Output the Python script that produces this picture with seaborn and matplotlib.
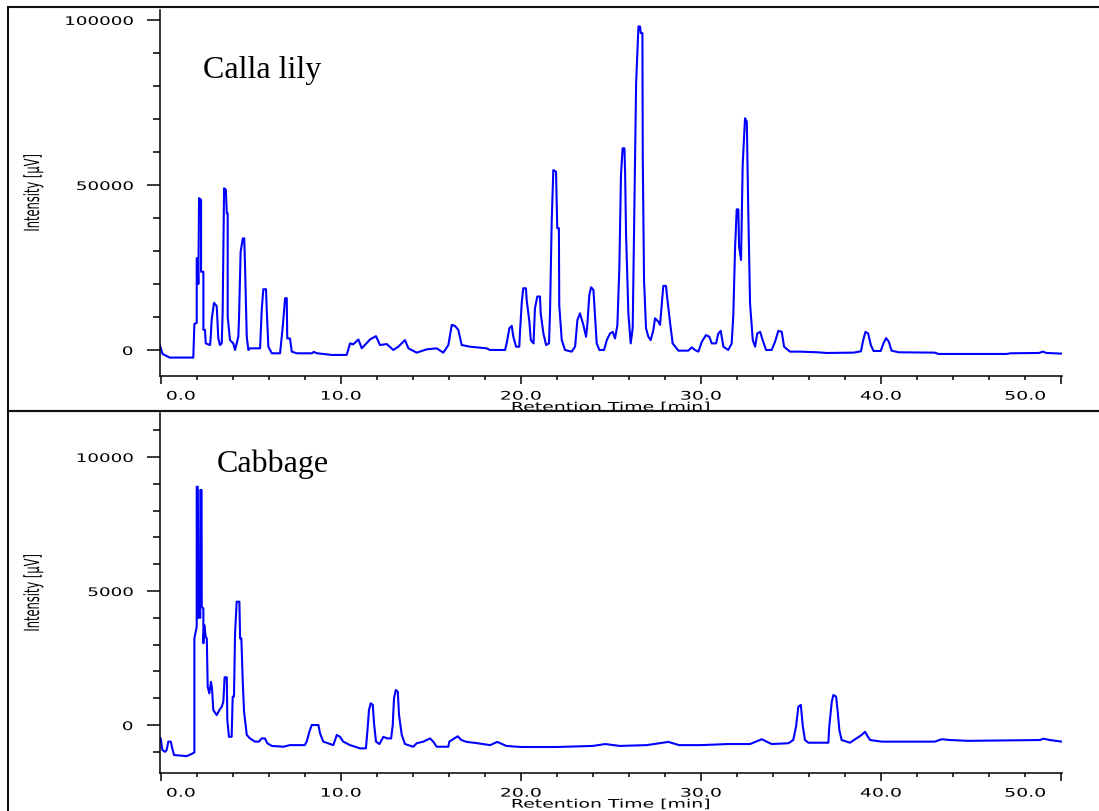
import matplotlib

matplotlib.use("Agg")
import matplotlib.patheffects as pe
import matplotlib.pyplot as plt
import matplotlib.transforms as mtransforms
import seaborn as sns
from matplotlib.patches import Rectangle
from matplotlib.ticker import MultipleLocator

# chromatogram traces (time in min, intensity in uV)
calla_time = [
    -0.05, 0.10, 0.50, 1.81, 1.87, 2.00, 2.00, 2.06, 2.09, 2.13, 2.24, 2.24, 2.37, 2.37, 2.46, 2.50,
    2.74, 2.78, 2.83, 2.96, 3.11, 3.20, 3.29, 3.39, 3.44, 3.52, 3.62, 3.67, 3.72, 3.72, 3.85, 4.03,
    4.13, 4.31, 4.35, 4.44, 4.56, 4.64, 4.68, 4.78, 4.87, 4.96, 5.52, 5.61, 5.70, 5.85, 5.89, 5.98,
    6.17, 6.63, 6.78, 6.91, 7.00, 7.03, 7.18, 7.28, 7.56, 8.40, 8.50, 8.70, 9.50, 10.33, 10.52, 10.70,
    10.98, 11.17, 11.63, 11.96, 12.18, 12.56, 12.92, 13.20, 13.57, 13.76, 14.22, 14.78, 15.33, 15.70,
    15.98, 16.17, 16.35, 16.53, 16.72, 17.18, 18.11, 18.29, 19.13, 19.22, 19.37, 19.50, 19.59, 19.74,
    19.92, 19.96, 20.06, 20.14, 20.29, 20.33, 20.48, 20.56, 20.71, 20.79, 20.92, 21.07, 21.11, 21.26,
    21.41, 21.57, 21.63, 21.72, 21.81, 21.96, 22.03, 22.12, 22.14, 22.28, 22.46, 22.83, 23.02, 23.15,
    23.29, 23.48, 23.63, 23.70, 23.81, 23.91, 24.04, 24.13, 24.22, 24.37, 24.63, 24.78, 24.96, 25.11,
    25.24, 25.37, 25.48, 25.57, 25.66, 25.76, 25.80, 25.85, 25.98, 26.11, 26.22, 26.29, 26.41, 26.54,
    26.63, 26.67, 26.76, 26.78, 26.85, 26.96, 27.09, 27.22, 27.37, 27.46, 27.64, 27.74, 27.83, 27.92,
    28.07, 28.14, 28.29, 28.44, 28.76, 29.31, 29.50, 29.68, 29.87, 30.06, 30.29, 30.48, 30.61, 30.85,
    30.98, 31.11, 31.26, 31.53, 31.72, 31.81, 31.91, 32.00, 32.09, 32.13, 32.24, 32.33, 32.46, 32.56,
    32.64, 32.74, 32.89, 33.02, 33.14, 33.30, 33.44, 33.63, 33.94, 34.13, 34.31, 34.50, 34.63, 34.96,
    35.52, 36.50, 37.00, 38.50, 38.90, 39.05, 39.15, 39.30, 39.45, 39.60, 40.00, 40.15, 40.30, 40.45,
    40.60, 41.00, 43.00, 43.20, 47.00, 47.20, 48.80, 49.00, 49.20, 50.05,
]
calla_intensity = [
    1500, -1200, -2300, -2300, 7900, 8200, 27800, 27800, 20000, 46000, 45500, 23700, 23700, 6100, 6100, 2000,
    1500, 4000, 9100, 14300, 13300, 3500, 1500, 2000, 11200, 49000, 48500, 41400, 41400, 10100, 3000, 2000,
    0, 4000, 9600, 29800, 33800, 33800, 26300, 4000, 0, 500, 500, 12100, 18400, 18400, 12100, 1000,
    -1000, -1000, 7100, 15700, 15700, 3500, 3500, -500, -1000, -1000, -600, -1000, -1500, -1500, 2000, 1700,
    3200, 500, 3200, 4200, 1500, 1800, 0, 1000, 3000, 500, -800, 200, 500, -800,
    1500, 7600, 7300, 6100, 1500, 1000, 500, 0, 0, 2000, 6600, 7300, 4000, 1000,
    1000, 5500, 14600, 18700, 18700, 15200, 8600, 3000, 2000, 12600, 16200, 16200, 11100, 5000,
    1500, 2000, 12100, 38900, 54500, 54000, 36900, 36900, 13600, 3000, 0, -500, 1000, 9100,
    11100, 7600, 4000, 7600, 16700, 19000, 18200, 10100, 2000, 0, 0, 3000, 5000, 5500,
    3500, 7600, 25200, 53000, 61100, 61100, 53500, 35300, 11100, 2000, 6600, 33300, 80800, 98000,
    98000, 96000, 96000, 58100, 21200, 6600, 4000, 3000, 6100, 9600, 8600, 7600, 13600, 19400,
    19400, 15700, 8600, 2000, -200, -200, 800, 0, -500, 2500, 4500, 4000, 2000, 2000,
    5000, 5800, 1000, 0, 2000, 10600, 31300, 42600, 42600, 31300, 27300, 56000, 70200, 69200,
    42400, 14100, 3000, 1000, 5000, 5500, 3000, 0, 0, 2500, 5800, 5500, 1000, -500,
    -500, -700, -900, -800, -400, 3500, 5500, 5000, 1500, -300, -300, 2000, 3600, 2500,
    -200, -700, -800, -1200, -1200, -1000, -900, -500, -900, -1100,
]

cabbage_time = [
    -0.09, 0.00, 0.09, 0.24, 0.33, 0.42, 0.56, 0.64, 0.74, 1.44, 1.72, 1.87, 1.87, 2.00, 2.00, 2.06,
    2.10, 2.20, 2.20, 2.27, 2.28, 2.37, 2.37, 2.42, 2.50, 2.56, 2.61, 2.70, 2.79, 2.85, 2.92, 3.11,
    3.26, 3.39, 3.48, 3.55, 3.67, 3.70, 3.79, 3.94, 4.00, 4.07, 4.13, 4.22, 4.37, 4.41, 4.48, 4.56,
    4.63, 4.78, 4.96, 5.24, 5.45, 5.61, 5.79, 5.92, 6.17, 6.81, 7.18, 8.00, 8.11, 8.26, 8.39, 8.76,
    8.85, 9.03, 9.59, 9.78, 9.96, 10.14, 10.52, 11.07, 11.40, 11.48, 11.57, 11.67, 11.78, 11.85, 11.96,
    12.15, 12.37, 12.59, 12.80, 12.89, 12.96, 13.06, 13.17, 13.24, 13.39, 13.57, 14.03, 14.22, 14.59,
    14.96, 15.14, 15.33, 15.98, 16.03, 16.50, 16.70, 17.00, 17.50, 18.30, 18.70, 19.20, 20.00, 22.00,
    24.00, 24.70, 25.50, 27.00, 28.20, 28.80, 30.00, 31.50, 32.74, 33.39, 33.94, 34.87, 35.14, 35.30,
    35.42, 35.56, 35.67, 35.79, 35.98, 37.09, 37.14, 37.28, 37.37, 37.52, 37.61, 37.70, 37.83, 38.29,
    38.94, 39.13, 39.26, 39.41, 40.06, 43.00, 43.39, 43.85, 44.87, 48.85, 49.03, 49.40, 50.05,
]
cabbage_intensity = [
    -440, -500, -930, -1000, -930, -620, -620, -870, -1120, -1160, -1080, -1020, 3230, 3670, 8890, 8890,
    4000, 4000, 8770, 8770, 4410, 4350, 3050, 3730, 3290, 3230, 1430, 1180, 1610, 1370, 560, 370,
    560, 680, 870, 1780, 1780, 190, -440, -440, 1060, 1060, 3420, 4600, 4600, 3230, 3230, 1560,
    500, -370, -500, -620, -620, -500, -500, -680, -780, -810, -750, -750, -620, -250, 0, 0,
    -310, -620, -750, -370, -440, -620, -750, -870, -870, -250, 560, 810, 750, 60, -620,
    -710, -440, -500, -500, 0, 1000, 1310, 1240, 370, -370, -710, -810, -680, -620,
    -500, -620, -810, -810, -620, -420, -560, -630, -670, -750, -630, -780, -820, -820,
    -780, -710, -780, -750, -630, -750, -750, -710, -710, -530, -710, -680, -560, -40,
    680, 750, -40, -560, -660, -660, -60, 870, 1120, 1060, 500, -190, -560, -660,
    -370, -250, -410, -560, -620, -620, -530, -560, -590, -560, -510, -560, -620,
]

time_ticks = [0, 10, 20, 30, 40, 50]
time_labels = ["0.0", "10.0", "20.0", "30.0", "40.0", "50.0"]
calla_yticks = [0, 50000, 100000]
cabbage_yticks = [0, 5000, 10000]

W, H = 1099, 811


class Stretch(pe.AbstractPathEffect):
    """Widen or narrow glyphs along the reading direction (the original uses a stretched font)."""

    def __init__(self, sx, anchor="center"):
        super().__init__()
        self.sx = sx
        self.anchor = anchor

    def draw_path(self, renderer, gc, tpath, affine, rgbFace=None):
        ext = tpath.get_extents()
        x0 = {"left": ext.x0, "center": (ext.x0 + ext.x1) / 2, "right": ext.x1}[self.anchor]
        scale = mtransforms.Affine2D().translate(-x0, 0).scale(self.sx, 1).translate(x0, 0)
        renderer.draw_path(gc, tpath, scale + affine, rgbFace)


def fx(px):
    return px / W


def fy(py):
    return 1 - py / H


def draw_panel(fig, top_px, bottom_px, t, v, yticks, yminor, ylim, title, title_xy):
    ax = fig.add_axes([fx(160), fy(bottom_px), (1062 - 160) / W, (bottom_px - top_px) / H])
    sns.lineplot(x=t, y=v, ax=ax, estimator=None, sort=False, color="#0000ff", linewidth=1.5)
    ax.set_xlim(-0.04, 50.07)
    ax.set_ylim(*ylim)
    ax.spines[["top", "right"]].set_visible(False)
    for side in ["left", "bottom"]:
        ax.spines[side].set_linewidth(1.1)
        ax.spines[side].set_color("black")

    ax.set_xticks(time_ticks)
    ax.set_xticklabels(time_labels)
    ax.xaxis.set_minor_locator(MultipleLocator(2))
    ax.set_yticks(yticks)
    ax.set_yticklabels([str(y) for y in yticks])
    ax.yaxis.set_minor_locator(MultipleLocator(yminor))

    ax.tick_params(axis="y", which="major", length=9.5, width=1.1, pad=10, labelsize=8.5, colors="black")
    ax.tick_params(axis="y", which="minor", length=5, width=1.1, colors="black")
    ax.tick_params(axis="x", which="major", length=6, width=1.1, pad=3.8, labelsize=8.5, colors="black")
    ax.tick_params(axis="x", which="minor", length=3, width=1.1, colors="black")

    for lab in ax.get_yticklabels():
        lab.set_path_effects([Stretch(1.55, "right")])
    for lab in ax.get_xticklabels():
        lab.set_path_effects([Stretch(1.6, "center")])

    ax.set_ylabel("Intensity [µV]", fontsize=15, color="black", path_effects=[Stretch(0.55)])
    ax.yaxis.set_label_coords((43 - 160) / 902, 0.5)
    ax.set_xlabel("Retention Time [min]", fontsize=8.5, color="black", path_effects=[Stretch(1.6)])
    ax.xaxis.set_label_coords(0.5, -34.6 / (bottom_px - top_px))
    ax.xaxis.label.set_va("baseline")

    # the instrument software nudges the end labels inside the frame
    shifts = {0: 20, len(time_ticks) - 1: -35.7}
    ticks = ax.xaxis.get_major_ticks()
    for i, dx in shifts.items():
        lab = ticks[i].label1
        lab.set_transform(lab.get_transform() + mtransforms.ScaledTranslation(dx / 100, 0, fig.dpi_scale_trans))

    fig.text(fx(title_xy[0]), fy(title_xy[1]), title, fontsize=23, family="Liberation Serif",
             va="baseline", color="black")
    return ax


def main() -> None:
    sns.set_style("ticks", rc={"axes.edgecolor": "black", "text.color": "black"})
    plt.rcParams["font.family"] = ["DejaVu Sans"]

    fig = plt.figure(figsize=(W / 100, H / 100), dpi=100)

    ax_top = draw_panel(fig, 10, 376, calla_time, calla_intensity, calla_yticks, 10000,
                        (-7880, 103000), "Calla lily", (203, 78))
    draw_panel(fig, 413, 773, cabbage_time, cabbage_intensity, cabbage_yticks, 1000,
               (-1790, 11640), "Cabbage", (217, 472))

    # the top x-label is cut by the panel frame in the original
    clip = mtransforms.TransformedBbox(mtransforms.Bbox([[0, fy(411)], [1, 1]]), fig.transFigure)
    ax_top.xaxis.label.set_clip_box(clip)

    fig.add_artist(Rectangle((fx(8), fy(411)), 1.0, (411 - 7) / H, transform=fig.transFigure,
                             fill=False, lw=1.5, ec="#111111"))
    fig.add_artist(Rectangle((fx(8), -0.1), 1.0, fy(411) + 0.1, transform=fig.transFigure,
                             fill=False, lw=1.5, ec="#111111"))

    fig.savefig("out.png", dpi=100)
    plt.close(fig)


if __name__ == "__main__":
    main()
